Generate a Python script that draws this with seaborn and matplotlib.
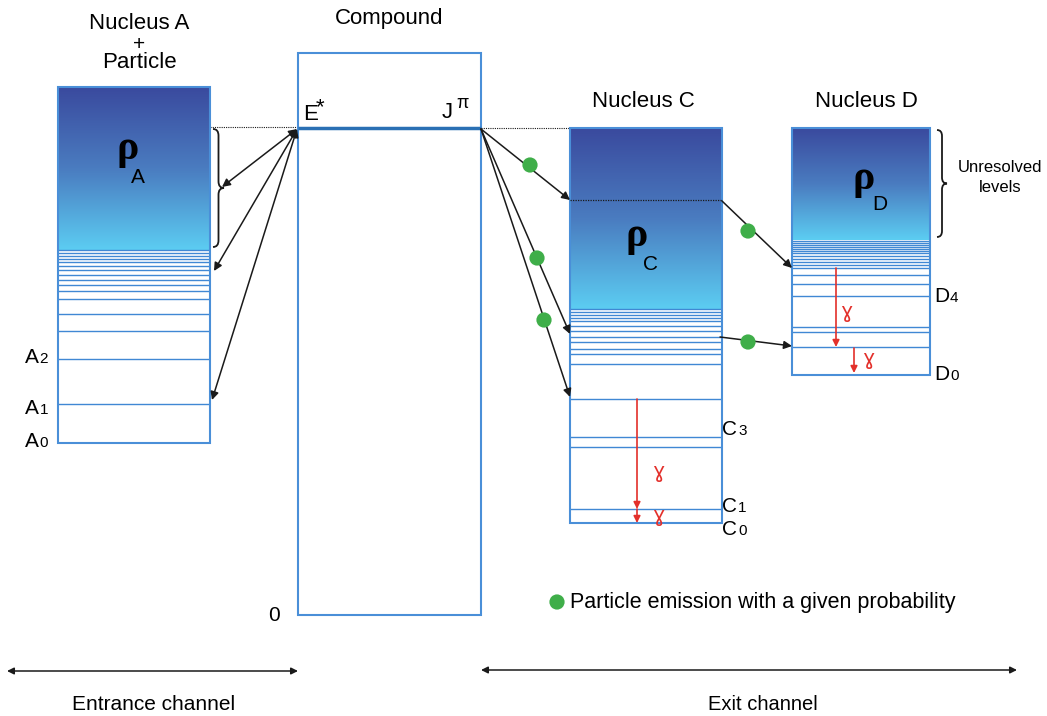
import numpy as np
import pandas as pd
import matplotlib.pyplot as plt
import seaborn as sns
from matplotlib.patches import Rectangle, PathPatch
from matplotlib.path import Path
from matplotlib.colors import LinearSegmentedColormap

# level positions (diagram energy scale, 0 at top of the page)
a_levels = [250, 253, 256, 259, 262, 266, 270, 275, 280, 285, 291, 299, 314, 331, 359, 404]
c_levels = [309, 312, 315, 318, 321, 326, 331, 337, 342, 349, 354, 364, 399, 437, 447, 509]
d_levels = [241, 243, 245, 247, 249, 251, 253, 256, 259, 262, 265, 268, 275, 284, 296, 327, 332, 347]

# boxes: x0, x1, top, end of continuum, ground state
box_names = ["A", "C", "D"]
box_x0 = [58, 570, 792]
box_x1 = [210, 722, 930]
box_top = [87, 128, 128]
box_cont = [250, 309, 240]
box_ground = [443, 523, 375]

compound_x = (298, 481)
compound_y = (53, 615)
e_star = 128

# particle emission dots
dot_x = [530, 537, 544, 748, 748]
dot_y = [165, 258, 320, 231, 342]

sns.set_theme(style="white")
plt.rcParams["font.family"] = ["Liberation Sans", "DejaVu Sans"]
plt.rcParams["text.color"] = "black"

fig = plt.figure(figsize=(10.47, 7.16), dpi=100)
ax = fig.add_axes([0, 0, 1, 1])

edge = "#4a8fd8"
lvl = "#4088d4"
red = "#e3302b"
green = "#3fae49"

cmap = LinearSegmentedColormap.from_list("rho", ["#3a4a9e", "#4a7cc0", "#5ccdf2"])
grad = np.linspace(0, 1, 256).reshape(-1, 1)

levels = {"A": a_levels, "C": c_levels, "D": d_levels}
for name, x0, x1, top, cont, gnd in zip(box_names, box_x0, box_x1, box_top, box_cont, box_ground):
    ax.imshow(grad, extent=(x0, x1, cont, top), cmap=cmap, aspect="auto", zorder=1)
    ax.add_patch(Rectangle((x0, top), x1 - x0, gnd - top, fill=False,
                           edgecolor=edge, lw=1.5, zorder=3))
    ax.hlines(levels[name], x0, x1, color=lvl, lw=1.0, zorder=2)

# compound box
ax.add_patch(Rectangle((compound_x[0], compound_y[0]), compound_x[1] - compound_x[0],
                       compound_y[1] - compound_y[0], fill=False, edgecolor=edge, lw=1.5, zorder=3))
ax.hlines(e_star, compound_x[0], compound_x[1], color="#2a70b4", lw=2.5, zorder=4)

# dotted guide lines
ax.plot([210, 298], [127, 127], ls=(0, (1, 1)), color="k", lw=0.8)
ax.plot([481, 570], [128, 128], ls=(0, (1, 1)), color="k", lw=0.8)
ax.plot([570, 722], [200, 200], ls=(0, (1, 1)), color="k", lw=0.9, zorder=4)


def arrow(p0, p1, style="-|>", color="k", lw=1.1, ms=12):
    ax.annotate("", xy=p1, xytext=p0,
                arrowprops=dict(arrowstyle=style, color=color, lw=lw, mutation_scale=ms,
                                shrinkA=0, shrinkB=0), zorder=5)


# entrance channel arrows
for end in [(222, 187), (214, 271), (212, 400)]:
    arrow((297, 129), end, style="<|-|>")

# exit to nucleus C
for end in [(570, 200), (570, 334), (570, 397)]:
    arrow((481, 129), end)
# C to D
arrow((722, 201), (792, 268))
arrow((720, 337), (792, 346))

# gamma transitions
arrow((637, 399), (637, 509), color=red, lw=1.2, ms=10)
arrow((637, 509), (637, 523), color=red, lw=1.2, ms=10)
arrow((836, 268), (836, 347), color=red, lw=1.2, ms=10)
arrow((854, 348), (854, 373), color=red, lw=1.2, ms=10)
for gx, gy in [(658, 478), (658, 522), (846, 318), (868, 365)]:
    ax.text(gx, gy, "ɣ", color=red, fontsize=15, ha="center", va="baseline",
            family=["DejaVu Sans"])

sns.scatterplot(x=dot_x + [557], y=dot_y + [602], s=120, color=green, edgecolor="none",
                ax=ax, zorder=6, legend=False)


def brace(x, y0, y1, w):
    ym = (y0 + y1) / 2
    r = w * 0.6
    xs = x + w / 2
    verts = [(x, y0), (xs, y0), (xs, y0 + r), (xs, ym - r), (xs, ym), (x + w, ym),
             (xs, ym), (xs, ym + r), (xs, y1 - r), (xs, y1), (x, y1)]
    codes = [Path.MOVETO, Path.CURVE3, Path.CURVE3, Path.LINETO, Path.CURVE3, Path.CURVE3,
             Path.CURVE3, Path.CURVE3, Path.LINETO, Path.CURVE3, Path.CURVE3]
    ax.add_patch(PathPatch(Path(verts, codes), fill=False, lw=1.3, color="k"))


brace(213, 129, 247, 11)
brace(937, 130, 237, 10)

# texts
ax.text(139, 29, "Nucleus A", fontsize=16, ha="center", va="baseline")
ax.text(139, 50, "+", fontsize=15, ha="center", va="baseline")
ax.text(139, 68, "Particle", fontsize=16, ha="center", va="baseline")
ax.text(389, 24, "Compound", fontsize=16, ha="center", va="baseline")
ax.text(643, 107, "Nucleus C", fontsize=16, ha="center", va="baseline")
ax.text(866, 107, "Nucleus D", fontsize=16, ha="center", va="baseline")
ax.text(1000, 172, "Unresolved", fontsize=12, ha="center", va="baseline")
ax.text(1000, 192, "levels", fontsize=12, ha="center", va="baseline")

ax.text(303, 120, "E", fontsize=16, ha="left", va="baseline")
ax.text(316, 113, "*", fontsize=16, ha="left", va="baseline")
ax.text(442, 118, "J", fontsize=16, ha="left", va="baseline")
ax.text(456, 108, "π", fontsize=13, ha="left", va="baseline")
ax.text(274, 621, "0", fontsize=15, ha="center", va="baseline")

for rx, ry, sx, sy, sub in [(128, 159, 138, 183, "A"), (637, 246, 650, 270, "C"), (864, 189, 880, 210, "D")]:
    ax.text(rx, ry, "ρ", fontsize=30, fontweight="bold", ha="center", va="baseline",
            family=["Liberation Serif", "DejaVu Serif"])
    ax.text(sx, sy, sub, fontsize=15, ha="center", va="baseline")

lab = [("A", "2", 25, 363), ("A", "1", 25, 414), ("A", "0", 25, 447),
       ("C", "3", 722, 435), ("C", "1", 722, 512), ("C", "0", 722, 535),
       ("D", "4", 934, 302), ("D", "0", 934, 380)]
for letter, digit, lx, ly in lab:
    ax.text(lx, ly, letter, fontsize=15, ha="left", va="baseline")
    ax.text(lx + (14.5 if letter == "A" else 16), ly, digit, fontsize=11, ha="left", va="baseline")

ax.text(570, 608, "Particle emission with a given probability", fontsize=15.5,
        ha="left", va="baseline")

arrow((7, 671), (298, 671), style="<|-|>", ms=10)
arrow((481, 670), (1017, 670), style="<|-|>", ms=10)
ax.text(154, 710, "Entrance channel", fontsize=15, ha="center", va="baseline")
ax.text(763, 710, "Exit channel", fontsize=14.5, ha="center", va="baseline")

ax.set_xlim(0, 1047)
ax.set_ylim(716, 0)
ax.axis("off")

fig.savefig("out.png", dpi=100)
